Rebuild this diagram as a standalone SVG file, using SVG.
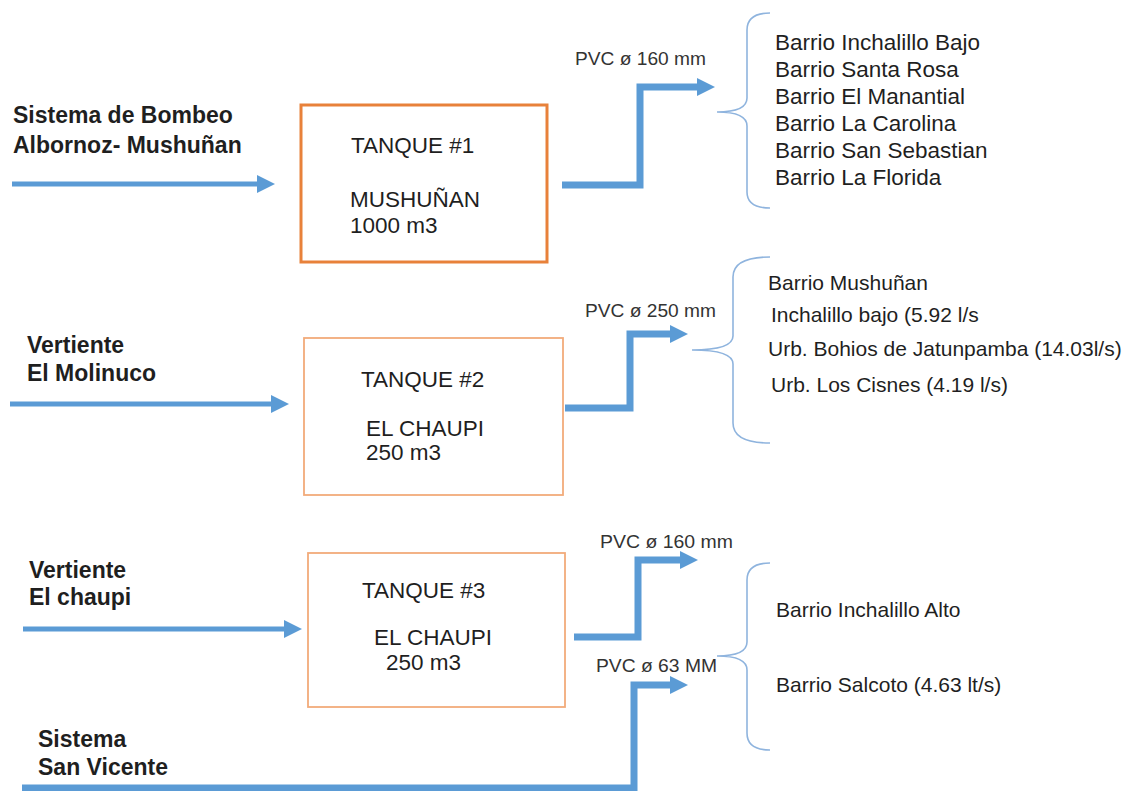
<svg xmlns="http://www.w3.org/2000/svg" width="1129" height="791" viewBox="0 0 1129 791">
<style>
text{font-family:"Liberation Sans",Arial,sans-serif;fill:#1f1f1f}
.src{font-weight:bold;font-size:23px}
.tk{font-size:22.5px}
.pvc{font-size:17.5px;fill:#333}
.l1{font-size:22.5px}
.l2{font-size:21px}
.pipe{fill:none;stroke:#5B9BD5;stroke-width:7}
.in{fill:none;stroke:#5B9BD5;stroke-width:5}
.brace{fill:none;stroke:#8FB4DE;stroke-width:1.6}
.t1{fill:#fff;stroke:#E8813A;stroke-width:3}
.t2{fill:#fff;stroke:#F2AB7A;stroke-width:1.8}
</style>
<defs>
<marker id="ah" markerUnits="userSpaceOnUse" markerWidth="20" markerHeight="20" refX="0" refY="9" orient="auto">
<path d="M0,0 L18,9 L0,18 z" fill="#5B9BD5"/>
</marker>
</defs>
<rect width="1129" height="791" fill="#fff"/>
<g id="connectors">
<path class="in" d="M12,184 H257" marker-end="url(#ah)"/>
<path class="in" d="M10,404 H271" marker-end="url(#ah)"/>
<path class="in" d="M23,629 H284" marker-end="url(#ah)"/>
<path class="pipe" d="M562,185 H640 V87 H697" marker-end="url(#ah)"/>
<path class="pipe" d="M565,408 H630 V334 H670" marker-end="url(#ah)"/>
<path class="pipe" d="M574,637 H638 V560 H680" marker-end="url(#ah)"/>
<path class="pipe" d="M22,788 H634 V685 H670" marker-end="url(#ah)"/>
<text class="pvc" x="575" y="65" textLength="131" lengthAdjust="spacingAndGlyphs">PVC ø 160 mm</text>
<text class="pvc" x="585" y="317" textLength="131" lengthAdjust="spacingAndGlyphs">PVC ø 250 mm</text>
<text class="pvc" x="600" y="548" textLength="133" lengthAdjust="spacingAndGlyphs">PVC ø 160 mm</text>
<text class="pvc" x="596" y="672" textLength="121" lengthAdjust="spacingAndGlyphs">PVC ø 63 MM</text>
</g>
<g id="src1"><text class="src" x="13" y="123">Sistema de Bombeo</text><text class="src" x="13" y="153">Albornoz- Mushuñan</text></g>
<g id="src2"><text class="src" x="27" y="353">Vertiente</text><text class="src" x="27" y="381">El Molinuco</text></g>
<g id="src3"><text class="src" x="29" y="578">Vertiente</text><text class="src" x="29" y="605">El chaupi</text></g>
<g id="src4"><text class="src" x="38" y="747">Sistema</text><text class="src" x="38" y="775">San Vicente</text></g>
<g id="tanque1"><rect class="t1" x="301" y="105" width="246" height="157"/>
<text class="tk" x="351" y="153">TANQUE #1</text><text class="tk" x="350" y="207">MUSHUÑAN</text><text class="tk" x="350" y="233">1000 m3</text></g>
<g id="tanque2"><rect class="t2" x="304" y="338" width="259" height="157"/>
<text class="tk" x="361" y="387">TANQUE #2</text><text class="tk" x="366" y="436">EL CHAUPI</text><text class="tk" x="366" y="460">250 m3</text></g>
<g id="tanque3"><rect class="t2" x="308" y="553" width="257" height="154"/>
<text class="tk" x="362" y="598">TANQUE #3</text><text class="tk" x="374" y="645">EL CHAUPI</text><text class="tk" x="386" y="670">250 m3</text></g>
<g id="barrios1"><path class="brace" d="M770,13 Q747,13 747,30 V98 Q747,112 717,112 Q747,112 747,126 V192 Q747,208 770,208"/>
<text class="l1" x="775" y="50">Barrio Inchalillo Bajo</text>
<text class="l1" x="775" y="77">Barrio Santa Rosa</text>
<text class="l1" x="775" y="104">Barrio El Manantial</text>
<text class="l1" x="775" y="131">Barrio La Carolina</text>
<text class="l1" x="775" y="158">Barrio San Sebastian</text>
<text class="l1" x="775" y="185">Barrio La Florida</text></g>
<g id="barrios2"><path class="brace" d="M770,257 Q733,257 733,277 V336 Q733,350 692,350 Q733,350 733,364 V423 Q733,443 770,443"/>
<text class="l2" x="768" y="290">Barrio Mushuñan</text>
<text class="l2" x="771" y="322">Inchalillo bajo (5.92 l/s</text>
<text class="l2" x="768" y="356">Urb. Bohios de Jatunpamba (14.03l/s)</text>
<text class="l2" x="771" y="392">Urb. Los Cisnes (4.19 l/s)</text></g>
<g id="barrios3"><path class="brace" d="M770,563 Q747,563 747,580 V642 Q747,656 717,656 Q747,656 747,670 V733 Q747,750 770,750"/>
<text class="l2" x="776" y="617">Barrio Inchalillo Alto</text>
<text class="l2" x="776" y="692">Barrio Salcoto (4.63 lt/s)</text></g>
</svg>
